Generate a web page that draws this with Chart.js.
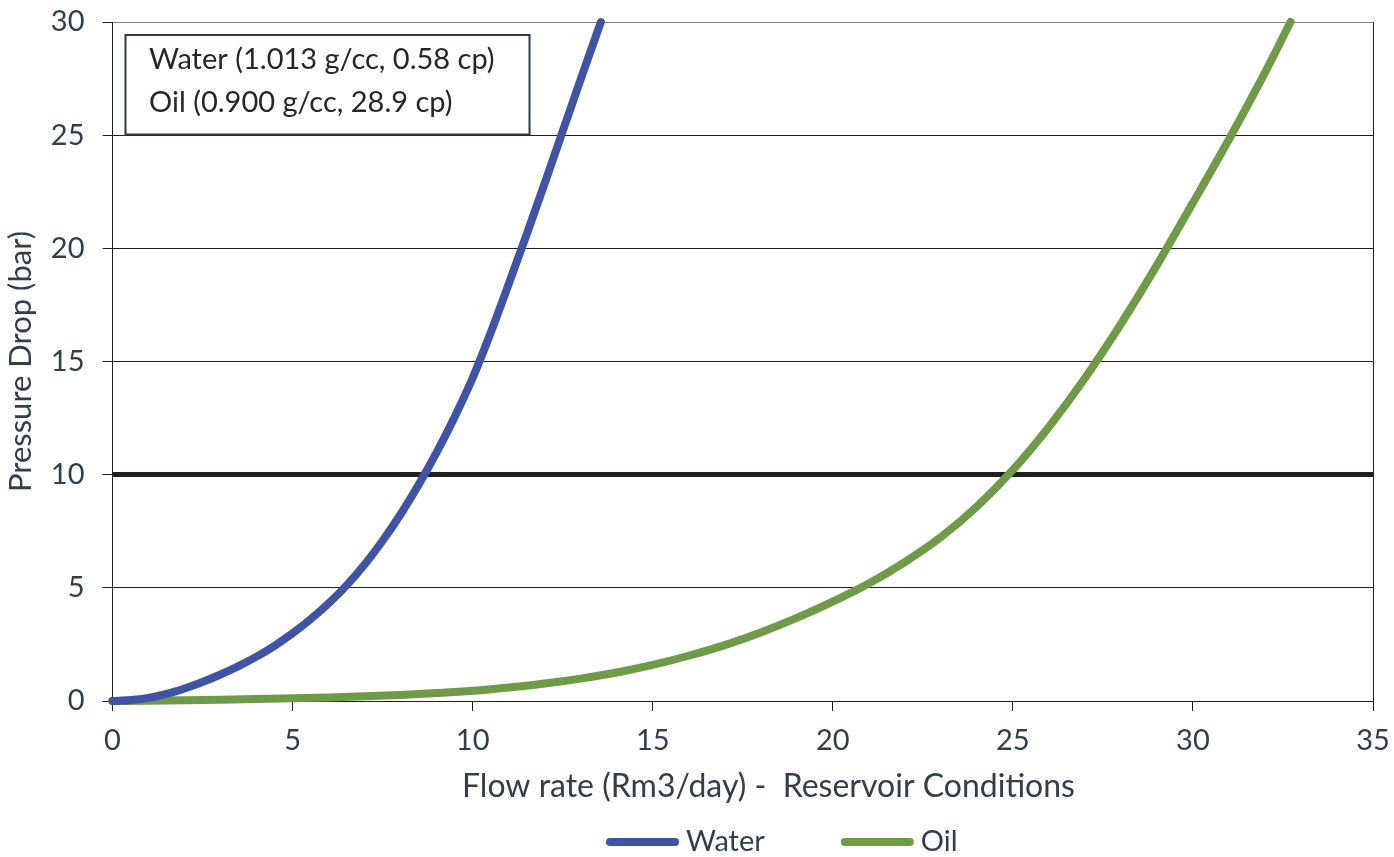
<!DOCTYPE html>
<html><head><meta charset="utf-8">
<script src="https://cdn.jsdelivr.net/npm/chart.js@4.4.1/dist/chart.umd.min.js"></script>
<style>html,body{margin:0;padding:0;background:#fff;}canvas{display:block;}</style>
</head><body>
<canvas id="c" width="1394" height="857"></canvas>
<script>
const waterX = [0,0.5,1,1.5,2,2.5,3,3.5,4,4.5,5,5.5,6,6.5,7,7.5,8,8.5,9,9.5,10,10.5,11,11.5,12,12.5,13,13.56];
const waterY = [0,0.04,0.14,0.31,0.55,0.84,1.17,1.54,1.96,2.44,2.99,3.61,4.31,5.11,6.03,7.08,8.25,9.55,10.98,12.55,14.27,16.27,18.42,20.62,22.87,25.17,27.47,30];
const oilX = [0,1,2,3,4,5,6,7,8,9,10,11,12,13,14,15,16,17,18,19,20,21,22,23,24,25,26,27,28,29,30,31,32,32.71];
const oilY = [0,0.01,0.03,0.055,0.085,0.12,0.16,0.21,0.27,0.35,0.45,0.595,0.77,0.99,1.26,1.595,2.0,2.47,3.03,3.67,4.39,5.19,6.14,7.24,8.59,10.21,12.11,14.26,16.66,19.26,22.01,24.81,27.76,30];
const seriesNames = ['Water','Oil'];
const noteLines = ['Water (1.013 g/cc, 0.58 cp)','Oil (0.900 g/cc, 28.9 cp)'];
const xTitle = 'Flow rate (Rm3/day) -  Reservoir Conditions';
const yTitle = 'Pressure Drop (bar)';

const TEXT = '#323e48';
const GRID = '#231f20';
const FONT = 'Lato';

const extras = {
  id: 'extras',
  afterDraw(chart) {
    const ctx = chart.ctx;
    const a = chart.chartArea;
    ctx.save();
    // x-axis title
    ctx.font = '32px ' + FONT;
    ctx.fillStyle = TEXT;
    ctx.textAlign = 'center';
    ctx.textBaseline = 'alphabetic';
    ctx.fillText(xTitle, 768.5, 797);
    // note box
    const bx = a.left + 13, by = a.top + 13, bw = 404, bh = 99.5;
    ctx.fillStyle = '#ffffff';
    ctx.fillRect(bx, by, bw, bh);
    ctx.lineWidth = 2;
    ctx.strokeStyle = '#2e3a45';
    ctx.strokeRect(bx, by, bw, bh);
    ctx.fillStyle = '#262626';
    ctx.textAlign = 'left';
    ctx.font = '29px ' + FONT;
    ctx.fillText(noteLines[0], bx + 23.5, by + 33.5);
    ctx.fillText(noteLines[1], bx + 23.5, by + 76.5);
    // legend
    ctx.font = '29px ' + FONT;
    ctx.textBaseline = 'middle';
    let x = 606;
    const ly = 842;
    chart.data.datasets.forEach(ds => {
      ctx.strokeStyle = ds.borderColor;
      ctx.lineWidth = 8;
      ctx.lineCap = 'round';
      ctx.beginPath();
      ctx.moveTo(x + 4, ly);
      ctx.lineTo(x + 69, ly);
      ctx.stroke();
      ctx.fillStyle = TEXT;
      ctx.fillText(ds.label, x + 80, ly);
      x += 80 + ctx.measureText(ds.label).width + 76;
    });
    ctx.restore();
  }
};

new Chart(document.getElementById('c'), {
  type: 'line',
  data: {
    datasets: [
      { label: seriesNames[0], data: waterX.map((x, i) => ({x, y: waterY[i]})),
        borderColor: '#3f54a4', backgroundColor: '#3f54a4', borderWidth: 8, pointRadius: 0,
        cubicInterpolationMode: 'monotone', borderCapStyle: 'round', borderJoinStyle: 'round', clip: false },
      { label: seriesNames[1], data: oilX.map((x, i) => ({x, y: oilY[i]})),
        borderColor: '#6f9b48', backgroundColor: '#6f9b48', borderWidth: 8, pointRadius: 0,
        cubicInterpolationMode: 'monotone', borderCapStyle: 'round', borderJoinStyle: 'round', clip: false }
    ]
  },
  options: {
    responsive: false, animation: false, devicePixelRatio: 1,
    layout: { padding: { left: 0, right: 21, top: 22, bottom: 0 } },
    scales: {
      x: {
        type: 'linear', min: 0, max: 35,
        ticks: { stepSize: 5, font: { family: FONT, size: 29 }, color: TEXT, padding: 12, maxRotation: 0 },
        grid: { drawOnChartArea: true, color: c => (c.tick && c.tick.value === 35) ? GRID : 'rgba(0,0,0,0)',
                tickColor: GRID, tickLength: 10, lineWidth: 1, tickWidth: 1 },
        border: { display: true, color: GRID, width: 1 },
        afterFit: s => { s.height = 156; s.paddingLeft = 0; s.paddingRight = 0; }
      },
      y: {
        min: 0, max: 30,
        ticks: { stepSize: 5, font: { family: FONT, size: 29 }, color: TEXT, padding: 18 },
        grid: { color: c => (c.tick && c.tick.value === 30) ? '#8a847e' : GRID,
                lineWidth: c => (c.tick && c.tick.value === 10) ? 5 : 1,
                tickColor: GRID, tickWidth: 1, tickLength: 10 },
        border: { display: true, color: GRID, width: 1 },
        title: { display: true, text: yTitle, font: { family: FONT, size: 31 }, color: TEXT, padding: { top: 2, bottom: 0 } },
        afterFit: s => { s.width = 112.5; s.paddingTop = 0; s.paddingBottom = 0; }
      }
    },
    plugins: {
      tooltip: { enabled: false },
      legend: { display: false }
    }
  },
  plugins: [extras]
});
</script>
</body></html>
